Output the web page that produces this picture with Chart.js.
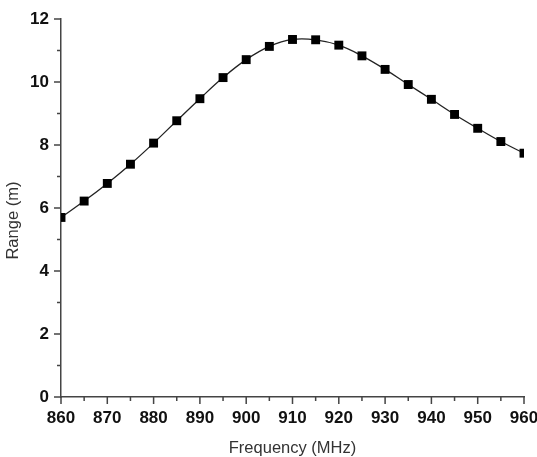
<!DOCTYPE html>
<html>
<head>
<meta charset="utf-8">
<script src="https://cdn.jsdelivr.net/npm/chart.js@4/dist/chart.umd.min.js"></script>
<style>
html,body{margin:0;padding:0;background:#fff;overflow:hidden;}
#wrap{width:537px;height:457px;position:relative;}
</style>
</head>
<body>
<div id="wrap"><canvas id="c" width="537" height="457"></canvas></div>
<script>
const frequencies = [860,865,870,875,880,885,890,895,900,905,910,915,920,925,930,935,940,945,950,955,960];
const ranges = [5.70,6.22,6.78,7.39,8.06,8.77,9.47,10.14,10.71,11.13,11.35,11.34,11.17,10.83,10.40,9.92,9.45,8.97,8.53,8.11,7.74];
const xTitle = 'Frequency (MHz)';
const yTitle = 'Range (m)';

const points = frequencies.map((f,i)=>({x:f,y:ranges[i]}));
const axisColor = '#444';
const fontFam = 'Liberation Sans, Arial, sans-serif';

const axisDecor = {
  id:'axisDecor',
  afterDraw(chart){
    const ctx = chart.ctx, xs = chart.scales.x, ys = chart.scales.y;
    ctx.save();
    ctx.strokeStyle = axisColor;
    ctx.lineWidth = 1.5;
    const xt = xs.ticks.map(t=>t.value);
    const yt = ys.ticks.map(t=>t.value);
    const bottom = chart.chartArea.bottom, left = chart.chartArea.left;
    ctx.beginPath();
    xt.forEach((v,i)=>{
      const p = xs.getPixelForValue(v);
      ctx.moveTo(p,bottom); ctx.lineTo(p,bottom+7);
      if(i<xt.length-1){
        const m = xs.getPixelForValue((v+xt[i+1])/2);
        ctx.moveTo(m,bottom); ctx.lineTo(m,bottom+4);
      }
    });
    yt.forEach((v,i)=>{
      const p = ys.getPixelForValue(v);
      ctx.moveTo(left,p); ctx.lineTo(left-7,p);
      if(i<yt.length-1){
        const m = ys.getPixelForValue((v+yt[i+1])/2);
        ctx.moveTo(left,m); ctx.lineTo(left-4,m);
      }
    });
    ctx.stroke();
    // y axis title
    ctx.fillStyle = '#333';
    ctx.font = '16.5px ' + fontFam;
    ctx.textAlign = 'center';
    ctx.textBaseline = 'middle';
    ctx.translate(13, ys.getPixelForValue(5.6));
    ctx.rotate(-Math.PI/2);
    ctx.fillText(yTitle, 0, 0);
    ctx.restore();
  }
};

new Chart(document.getElementById('c'),{
  type:'scatter',
  data:{datasets:[{
    data:points,
    showLine:true,
    borderColor:'#222',
    borderWidth:1.3,
    tension:0.4,
    pointStyle:'rect',
    pointRadius:6.3,
    pointBackgroundColor:'#000',
    pointBorderColor:'#000',
    pointBorderWidth:0,
    clip:0
  }]},
  options:{
    responsive:false,
    animation:false,
    devicePixelRatio:1,
    layout:{padding:{top:19,right:13,bottom:0,left:0}},
    plugins:{legend:{display:false},tooltip:{enabled:false}},
    scales:{
      x:{
        type:'linear',min:860,max:960,
        ticks:{stepSize:10,color:'#111',font:{family:fontFam,size:17,weight:'bold'},padding:11,maxRotation:0},
        grid:{display:true,drawOnChartArea:false,drawTicks:false},
        border:{display:true,color:axisColor,width:1.5},
        title:{display:true,text:xTitle,color:'#333',font:{family:fontFam,size:16.5,lineHeight:1},padding:{top:0,bottom:0}},
        afterFit(s){s.height=60;s.paddingLeft=0;s.paddingRight=0;}
      },
      y:{
        min:0,max:12,
        ticks:{stepSize:2,color:'#111',font:{family:fontFam,size:17,weight:'bold'},padding:12},
        grid:{display:true,drawOnChartArea:false,drawTicks:false},
        border:{display:true,color:axisColor,width:1.5},
        title:{display:false,text:yTitle},
        afterFit(s){s.width=61;s.paddingTop=0;s.paddingBottom=0;}
      }
    }
  },
  plugins:[axisDecor]
});
</script>
</body>
</html>
